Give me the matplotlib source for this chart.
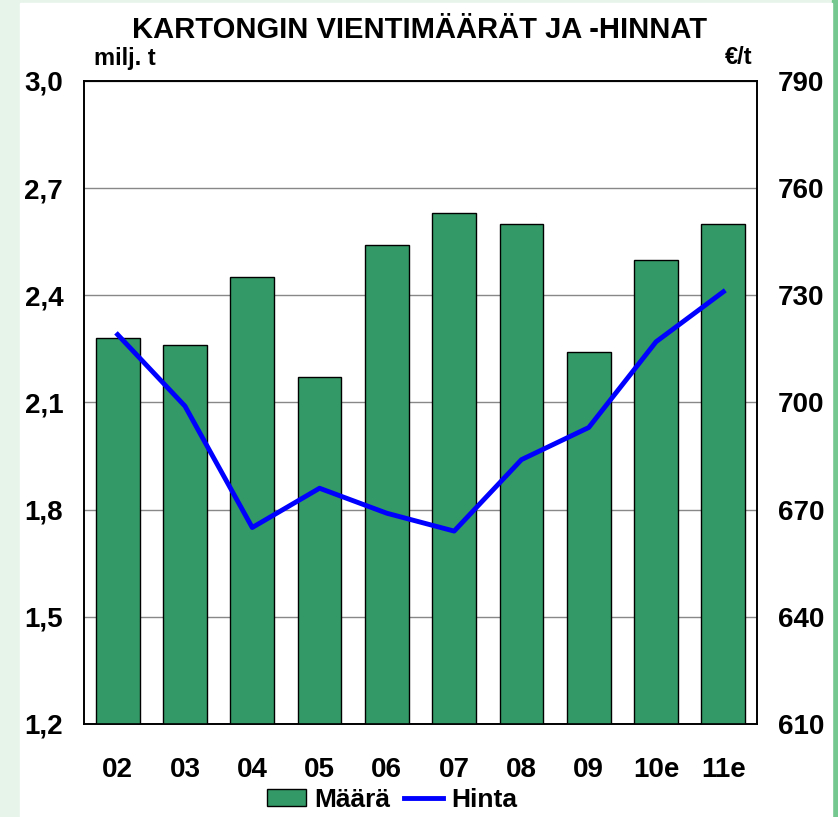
import matplotlib
matplotlib.use("Agg")
import matplotlib.pyplot as plt
import matplotlib.patches as patches
from matplotlib.lines import Line2D
import numpy as np

plt.rcParams['font.family'] = ['Liberation Sans', 'DejaVu Sans']
plt.rcParams['font.weight'] = 'bold'

# data
years = ["02", "03", "04", "05", "06", "07", "08", "09", "10e", "11e"]
maara = [2.28, 2.26, 2.45, 2.17, 2.54, 2.63, 2.60, 2.24, 2.50, 2.60]   # milj. t
hinta = [719, 699, 665, 676, 669, 664, 684, 693, 717, 731]            # €/t
left_ticks = [1.2, 1.5, 1.8, 2.1, 2.4, 2.7, 3.0]
right_ticks = [610, 640, 670, 700, 730, 760, 790]

bar_col = "#339966"

fig = plt.figure(figsize=(8.38, 8.17), dpi=100)

# background: green edges with white panel
fig.patches.append(patches.Rectangle((0, 0), 1, 1, transform=fig.transFigure,
                                     color="#e6f4ea", zorder=-10))
fig.patches.append(patches.Rectangle((832/838, 0), 6/838, 1, transform=fig.transFigure,
                                     color="#74c890", zorder=-9))
fig.patches.append(patches.Rectangle((20/838, 0), 812/838, 1 - 3/817, transform=fig.transFigure,
                                     color="white", zorder=-8))

ax = fig.add_axes([84/838, 1 - 724/817, 673/838, 643/817])
x = np.arange(len(years))
ax.bar(x, maara, width=0.65, color=bar_col, edgecolor="black", linewidth=1.0, zorder=3)
ax.set_ylim(1.2, 3.0)
ax.set_xlim(-0.5, len(years) - 0.5)
ax.set_yticks(left_ticks)
ax.set_yticklabels([f"{v:.1f}".replace(".", ",") for v in left_ticks])
ax.set_xticks(x)
ax.set_xticklabels(years)
ax.grid(axis="y", color="#888888", linewidth=1.0, zorder=0)
ax.tick_params(axis="y", length=0, pad=15, labelsize=20)
ax.tick_params(axis="x", length=0, pad=24, labelsize=20)
for s in ax.spines.values():
    s.set_color("black")
    s.set_linewidth(1.2)

ax2 = ax.twinx()
ax2.plot(x, hinta, color="#0000ff", linewidth=3.5, zorder=5)
ax2.set_ylim(610, 790)
ax2.set_yticks(right_ticks)
ax2.tick_params(axis="y", length=0, pad=15, labelsize=20)
for s in ax2.spines.values():
    s.set_color("black")
    s.set_linewidth(1.2)

fig.text(420/838, 1 - 30/817, "KARTONGIN VIENTIMÄÄRÄT JA -HINNAT", ha="center", va="center",
         fontsize=21, fontweight="bold")
fig.text(94/838, 1 - 58/817, "milj. t", ha="left", va="center", fontsize=17, fontweight="bold")
fig.text(752/838, 1 - 58/817, "€/t", ha="right", va="center", fontsize=17, fontweight="bold")

handles = [patches.Patch(facecolor=bar_col, edgecolor="black", linewidth=1.0),
           Line2D([0], [0], color="#0000ff", linewidth=3.5)]
fig.legend(handles, ["Määrä", "Hinta"], loc="center", bbox_to_anchor=(392/838, 1 - 800/817),
           ncol=2, frameon=False, fontsize=19, handlelength=1.5, handleheight=0.6,
           handletextpad=0.3, columnspacing=0.5, borderpad=0.1)

fig.savefig("out.png", dpi=100)
